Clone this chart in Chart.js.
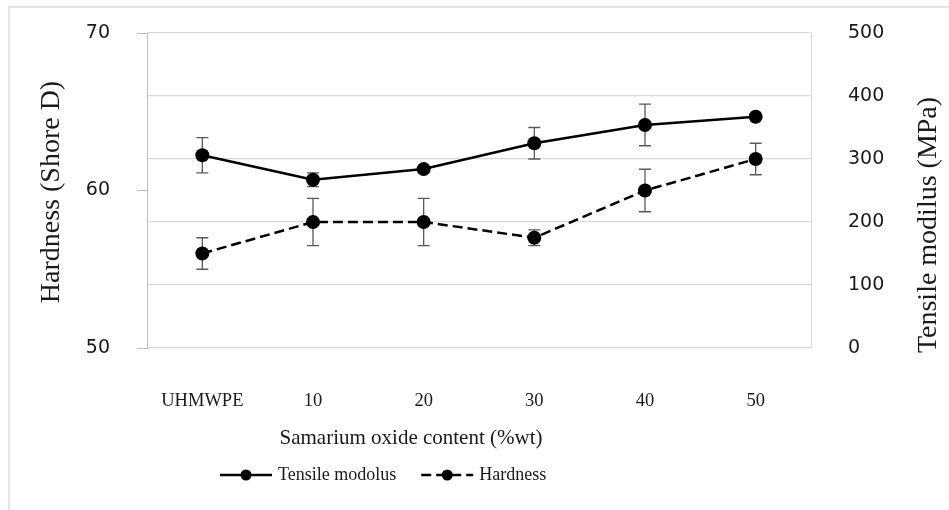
<!DOCTYPE html>
<html>
<head>
<meta charset="utf-8">
<script src="https://cdn.jsdelivr.net/npm/chart.js@4.4.1/dist/chart.umd.min.js"></script>
<style>
  html, body { margin: 0; padding: 0; background: #fff; }
  #wrap { width: 949px; height: 510px; }
</style>
</head>
<body>
<div id="wrap"><canvas id="chart" width="949" height="510"></canvas></div>
<script>
// values
const categories = ['UHMWPE', '10', '20', '30', '40', '50'];
const tensileModulus = [306, 267, 284, 325, 354, 367];   // MPa, right axis
const tensileError = [28, 11, 0, 25, 33, 0];
const hardness = [56, 58, 58, 57, 60, 62];               // Shore D, left axis
const hardnessError = [1.0, 1.5, 1.5, 0.5, 1.35, 1.0];
const hardnessTicks = [50, 60, 70];
const modulusTicks = [0, 100, 200, 300, 400, 500];

const SERIF = "'Liberation Serif', 'Times New Roman', serif";
const SANS = "'DejaVu Sans', sans-serif";
const TEXT = '#1a1a1a';
const GRID = '#d9d9d9';
const AXIS = '#bfbfbf';

// vertical error bars, placed with each dataset's own y scale
const errorBars = {
  id: 'errorBars',
  beforeDatasetsDraw(chart) {
    const ctx = chart.ctx;
    chart.data.datasets.forEach((ds, i) => {
      const meta = chart.getDatasetMeta(i);
      const yScale = chart.scales[ds.yAxisID];
      ctx.save();
      ctx.strokeStyle = '#595959';
      ctx.lineWidth = 1.3;
      meta.data.forEach((pt, j) => {
        const e = ds.errors[j];
        if (!e) return;
        const top = yScale.getPixelForValue(ds.data[j] + e);
        const bot = yScale.getPixelForValue(ds.data[j] - e);
        ctx.beginPath();
        ctx.moveTo(pt.x, top); ctx.lineTo(pt.x, bot);
        ctx.moveTo(pt.x - 6, top); ctx.lineTo(pt.x + 6, top);
        ctx.moveTo(pt.x - 6, bot); ctx.lineTo(pt.x + 6, bot);
        ctx.stroke();
      });
      ctx.restore();
    });
  }
};

// frame, axis titles and the line+marker legend
const decorations = {
  id: 'decorations',
  beforeDraw(chart) {
    const ctx = chart.ctx;
    ctx.save();
    ctx.strokeStyle = '#e3e3e3';
    ctx.lineWidth = 2;
    ctx.beginPath();
    ctx.moveTo(9, chart.height);
    ctx.lineTo(9, 7);
    ctx.lineTo(chart.width, 7);
    ctx.stroke();
    ctx.restore();
  },
  afterDraw(chart) {
    const ctx = chart.ctx;
    ctx.save();
    ctx.fillStyle = TEXT;
    ctx.textAlign = 'center';
    ctx.textBaseline = 'middle';

    ctx.font = '21px ' + SERIF;
    ctx.fillText('Samarium oxide content (%wt)', 411, 438);

    ctx.font = '28px ' + SERIF;
    ctx.save();
    ctx.translate(52, 192);
    ctx.rotate(-Math.PI / 2);
    ctx.fillText('Hardness (Shore D)', 0, 0);
    ctx.restore();
    ctx.save();
    ctx.translate(929, 225);
    ctx.rotate(-Math.PI / 2);
    ctx.fillText('Tensile modilus (MPa)', 0, 0);
    ctx.restore();

    // legend
    ctx.font = '18px ' + SERIF;
    ctx.textAlign = 'left';
    let x = 220;
    const y = 475;
    chart.data.datasets.forEach((ds) => {
      ctx.save();
      ctx.strokeStyle = ds.borderColor;
      ctx.lineWidth = ds.borderWidth;
      ctx.setLineDash(ds.borderDash || []);
      ctx.beginPath();
      ctx.moveTo(x, y); ctx.lineTo(x + 52, y);
      ctx.stroke();
      ctx.setLineDash([]);
      ctx.fillStyle = ds.pointBackgroundColor;
      ctx.beginPath();
      ctx.arc(x + 26, y, 5.5, 0, Math.PI * 2);
      ctx.fill();
      ctx.restore();
      ctx.fillText(ds.label, x + 58, y);
      x += 58 + ctx.measureText(ds.label).width + 25;
    });
    ctx.restore();
  }
};

// keep the big label padding from pushing the plot area down
function fixVertical(width) {
  return (scale) => {
    scale.width = width;
    scale.paddingTop = 11;
    scale.paddingBottom = 11;
  };
}

new Chart(document.getElementById('chart').getContext('2d'), {
  type: 'line',
  data: {
    labels: categories,
    datasets: [
      {
        label: 'Tensile modolus',
        data: tensileModulus,
        errors: tensileError,
        yAxisID: 'y1',
        borderColor: '#000',
        backgroundColor: '#000',
        pointBackgroundColor: '#000',
        borderWidth: 2.5,
        pointRadius: 7,
        pointBorderWidth: 0,
        tension: 0,
      },
      {
        label: 'Hardness',
        data: hardness,
        errors: hardnessError,
        yAxisID: 'y',
        borderColor: '#000',
        backgroundColor: '#000',
        pointBackgroundColor: '#000',
        borderWidth: 2.5,
        borderDash: [10, 5],
        pointRadius: 7,
        pointBorderWidth: 0,
        tension: 0,
      },
    ],
  },
  options: {
    responsive: false,
    animation: false,
    layout: { padding: { top: 33, left: 0, right: 0, bottom: 0 } },
    plugins: {
      legend: { display: false },
      tooltip: { enabled: false },
    },
    scales: {
      x: {
        offset: true,
        grid: { display: false, drawTicks: false },
        border: { display: false },
        ticks: {
          color: TEXT, padding: 42, autoSkip: false, maxRotation: 0,
          font: { family: SERIF, size: 18.5 },
        },
        afterFit(scale) { scale.height = 162; },
      },
      y: {
        position: 'left',
        min: hardnessTicks[0],
        max: hardnessTicks[hardnessTicks.length - 1],
        grid: { drawOnChartArea: false, drawTicks: true, tickLength: 10, color: AXIS },
        border: { display: true, color: AXIS },
        ticks: {
          stepSize: hardnessTicks[1] - hardnessTicks[0],
          color: TEXT, padding: 27,
          font: { family: SANS, size: 19 },
        },
        afterFit: fixVertical(147),
      },
      y1: {
        position: 'right',
        min: modulusTicks[0],
        max: modulusTicks[modulusTicks.length - 1],
        grid: { color: GRID, drawTicks: false, lineWidth: 1.3 },
        border: { display: true, color: GRID },
        ticks: {
          stepSize: modulusTicks[1] - modulusTicks[0],
          color: TEXT, padding: 37,
          font: { family: SANS, size: 19 },
        },
        afterFit: fixVertical(138),
      },
    },
  },
  plugins: [errorBars, decorations],
});
</script>
</body>
</html>
